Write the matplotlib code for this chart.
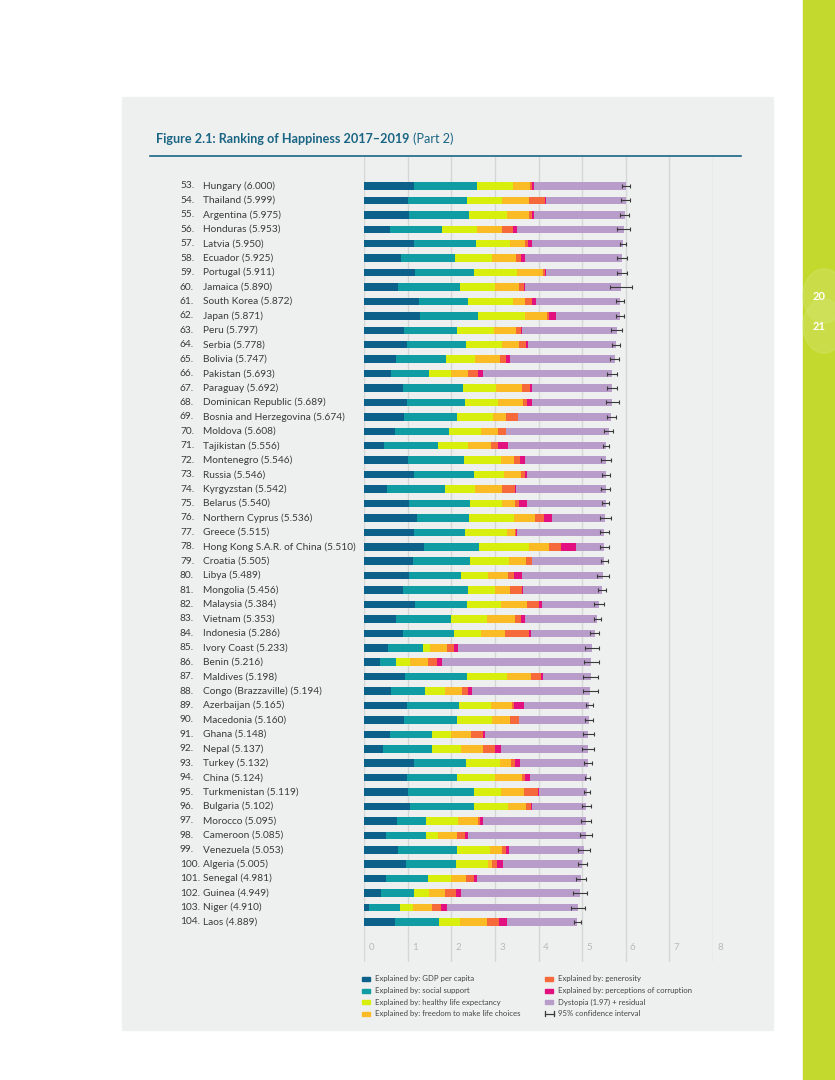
import matplotlib
matplotlib.use("Agg")
import matplotlib.pyplot as plt
import matplotlib.transforms as mtransforms
from matplotlib.patches import Rectangle, Circle

plt.rcParams['font.family'] = ['Lato', 'DejaVu Sans']

# ranking rows, top to bottom
ranks = list(range(53, 105))
countries = [
    "Hungary", "Thailand", "Argentina", "Honduras", "Latvia", "Ecuador", "Portugal",
    "Jamaica", "South Korea", "Japan", "Peru", "Serbia", "Bolivia", "Pakistan",
    "Paraguay", "Dominican Republic", "Bosnia and Herzegovina", "Moldova", "Tajikistan",
    "Montenegro", "Russia", "Kyrgyzstan", "Belarus", "Northern Cyprus", "Greece",
    "Hong Kong S.A.R. of China", "Croatia", "Libya", "Mongolia", "Malaysia", "Vietnam",
    "Indonesia", "Ivory Coast", "Benin", "Maldives", "Congo (Brazzaville)", "Azerbaijan",
    "Macedonia", "Ghana", "Nepal", "Turkey", "China", "Turkmenistan", "Bulgaria",
    "Morocco", "Cameroon", "Venezuela", "Algeria", "Senegal", "Guinea", "Niger", "Laos",
]
scores = [
    6.000, 5.999, 5.975, 5.953, 5.950, 5.925, 5.911, 5.890, 5.872, 5.871, 5.797, 5.778,
    5.747, 5.693, 5.692, 5.689, 5.674, 5.608, 5.556, 5.546, 5.546, 5.542, 5.540, 5.536,
    5.515, 5.510, 5.505, 5.489, 5.456, 5.384, 5.353, 5.286, 5.233, 5.216, 5.198, 5.194,
    5.165, 5.160, 5.148, 5.137, 5.132, 5.124, 5.119, 5.102, 5.095, 5.085, 5.053, 5.005,
    4.981, 4.949, 4.910, 4.889,
]
gdp = [
    1.15, 1.00, 1.02, 0.60, 1.14, 0.85, 1.16, 0.78, 1.25, 1.27, 0.92, 0.98, 0.72, 0.62,
    0.89, 0.97, 0.92, 0.70, 0.46, 1.01, 1.13, 0.51, 1.02, 1.21, 1.13, 1.37, 1.11, 1.02,
    0.90, 1.16, 0.72, 0.88, 0.54, 0.35, 0.93, 0.62, 0.99, 0.92, 0.58, 0.44, 1.13, 0.99,
    1.01, 1.05, 0.75, 0.50, 0.77, 0.95, 0.50, 0.39, 0.10, 0.71,
]
social = [
    1.44, 1.36, 1.39, 1.19, 1.42, 1.23, 1.36, 1.41, 1.13, 1.34, 1.21, 1.35, 1.16, 0.87,
    1.38, 1.35, 1.20, 1.25, 1.23, 1.27, 1.39, 1.35, 1.40, 1.20, 1.18, 1.26, 1.32, 1.21,
    1.47, 1.19, 1.26, 1.17, 0.80, 0.37, 1.42, 0.78, 1.19, 1.20, 0.97, 1.11, 1.20, 1.14,
    1.52, 1.47, 0.66, 0.91, 1.35, 1.15, 0.97, 0.76, 0.72, 1.00,
]
health = [
    0.82, 0.81, 0.86, 0.80, 0.79, 0.85, 0.98, 0.80, 1.03, 1.07, 0.85, 0.83, 0.67, 0.49,
    0.75, 0.74, 0.83, 0.72, 0.68, 0.85, 0.68, 0.69, 0.75, 1.03, 0.97, 1.15, 0.90, 0.62,
    0.62, 0.79, 0.83, 0.62, 0.16, 0.33, 0.93, 0.46, 0.74, 0.82, 0.43, 0.68, 0.79, 0.87,
    0.62, 0.78, 0.75, 0.28, 0.77, 0.75, 0.51, 0.33, 0.30, 0.49,
]
freedom = [
    0.40, 0.61, 0.52, 0.57, 0.34, 0.55, 0.60, 0.56, 0.27, 0.51, 0.50, 0.40, 0.57, 0.40,
    0.59, 0.58, 0.30, 0.39, 0.54, 0.30, 0.40, 0.61, 0.30, 0.48, 0.18, 0.47, 0.39, 0.45,
    0.36, 0.60, 0.65, 0.57, 0.40, 0.41, 0.54, 0.39, 0.48, 0.41, 0.48, 0.49, 0.26, 0.62,
    0.52, 0.42, 0.46, 0.43, 0.28, 0.08, 0.35, 0.37, 0.43, 0.62,
]
generosity = [
    0.04, 0.38, 0.06, 0.26, 0.06, 0.12, 0.05, 0.12, 0.17, 0.04, 0.11, 0.16, 0.13, 0.23,
    0.20, 0.09, 0.27, 0.19, 0.17, 0.15, 0.08, 0.31, 0.09, 0.20, 0.02, 0.27, 0.12, 0.13,
    0.27, 0.28, 0.13, 0.54, 0.16, 0.20, 0.23, 0.12, 0.03, 0.20, 0.27, 0.29, 0.07, 0.06,
    0.31, 0.11, 0.04, 0.20, 0.08, 0.12, 0.18, 0.25, 0.21, 0.27,
]
corruption = [
    0.04, 0.02, 0.05, 0.08, 0.10, 0.08, 0.02, 0.02, 0.09, 0.17, 0.02, 0.03, 0.09, 0.11,
    0.05, 0.12, 0.005, 0.005, 0.23, 0.10, 0.06, 0.02, 0.18, 0.20, 0.03, 0.33, 0.01, 0.18,
    0.03, 0.06, 0.09, 0.04, 0.10, 0.12, 0.06, 0.11, 0.24, 0.01, 0.05, 0.12, 0.13, 0.12,
    0.04, 0.01, 0.07, 0.05, 0.07, 0.13, 0.07, 0.12, 0.14, 0.19,
]
ci_half = [
    0.09, 0.10, 0.11, 0.14, 0.07, 0.115, 0.115, 0.25, 0.10, 0.09, 0.13, 0.10, 0.11, 0.11,
    0.115, 0.15, 0.10, 0.10, 0.07, 0.11, 0.09, 0.10, 0.08, 0.12, 0.10, 0.10, 0.08, 0.14,
    0.09, 0.11, 0.08, 0.11, 0.16, 0.17, 0.165, 0.17, 0.08, 0.10, 0.135, 0.13, 0.09, 0.06,
    0.065, 0.10, 0.12, 0.14, 0.14, 0.10, 0.115, 0.16, 0.165, 0.085,
]
dystopia = [s - (a + b + c + d + e + f) for s, a, b, c, d, e, f in
            zip(scores, gdp, social, health, freedom, generosity, corruption)]

segments = [
    ("Explained by: GDP per capita", gdp, "#0b6189"),
    ("Explained by: social support", social, "#0f9ca3"),
    ("Explained by: healthy life expectancy", health, "#d8ee0c"),
    ("Explained by: freedom to make life choices", freedom, "#fbbb25"),
    ("Explained by: generosity", generosity, "#f5693a"),
    ("Explained by: perceptions of corruption", corruption, "#e3117f"),
    ("Dystopia (1.97) + residual", dystopia, "#b89cc9"),
]
xticks = list(range(0, 9))

W, H = 835, 1080
fig = plt.figure(figsize=(W / 100, H / 100), dpi=100)
fig.patch.set_facecolor("white")


def fx(px):
    return px / W


def fy(py):
    return 1 - py / H


# page background pieces
fig.patches.append(Rectangle((fx(122), fy(1030)), fx(651), (1030 - 97) / H,
                             transform=fig.transFigure, color="#eef0ef", zorder=-2))
fig.patches.append(Rectangle((fx(803), 0), fx(32), 1,
                             transform=fig.transFigure, color="#c3d92d", zorder=-2))
for cy in (296, 326):
    fig.patches.append(Circle((fx(824), fy(cy)), 21 / W, transform=fig.transFigure,
                              color="#d4e46b", alpha=0.45, zorder=-1))
fig.text(fx(819), fy(296), "20", color="white", fontsize=8, fontweight="bold",
         ha="center", va="center")
fig.text(fx(819), fy(326), "21", color="white", fontsize=8, fontweight="bold",
         ha="center", va="center")

# title and rule
title_color = "#1a6584"
t = fig.text(fx(156), fy(139), "Figure 2.1: Ranking of Happiness 2017\u20132019",
             color=title_color, fontsize=9.1, fontweight="bold", va="center")
fig.canvas.draw()
bb = t.get_window_extent()
fig.text(bb.x1 / W + fx(4), fy(139), "(Part 2)", color=title_color, fontsize=9.1,
         va="center")
fig.add_artist(plt.Line2D([fx(150), fx(741)], [fy(156), fy(156)],
                          transform=fig.transFigure, color=title_color, lw=1.2))

# chart axes
x0, x8 = 364.3, 712.7
ax = fig.add_axes([fx(x0), fy(962), (x8 - x0) / W, (962 - 157) / H])
ax.set_zorder(2)
ax.set_facecolor("none")
ax.set_xlim(0, 8)
row0, step = 186, 14.43
ax.set_ylim((962 - row0) / step, (157 - row0) / step)
for s in ax.spines.values():
    s.set_visible(False)
ax.set_xticks([])
ax.set_yticks([])
for xv in xticks:
    ax.axvline(xv, color="#d5d7d6", lw=1.0, zorder=0)

ypos = list(range(len(countries)))
left = [0.0] * len(countries)
for name, vals, col in segments:
    ax.barh(ypos, vals, left=left, height=0.52, color=col, label=name, zorder=2)
    left = [l + v for l, v in zip(left, vals)]
ax.errorbar(scores, ypos, xerr=ci_half, fmt="none", ecolor="#3a3a3a", elinewidth=0.8,
            capsize=1.6, capthick=0.8, zorder=3)

tick_y = (948 - row0) / step
for xv in xticks:
    ax.text(xv + 0.1, tick_y, str(xv), color="#b8bab9", fontsize=7, va="center",
            ha="left")

lab_tr = mtransforms.blended_transform_factory(fig.transFigure, ax.transData)
for i, (r, c, s) in enumerate(zip(ranks, countries, scores)):
    ax.text(fx(180), i, f"{r}.", transform=lab_tr, fontsize=7.3, color="#3a3a3a",
            va="center", ha="left")
    ax.text(fx(203), i, f"{c} ({s:.3f})", transform=lab_tr, fontsize=7.3,
            color="#3a3a3a", va="center", ha="left")

# legend
leg_rows = [979, 990.5, 1002, 1013.5]
for k, (name, vals, col) in enumerate(segments):
    colx = 362 if k < 4 else 545
    ry = leg_rows[k % 4]
    fig.patches.append(Rectangle((fx(colx), fy(ry + 2)), 8 / W, 4 / H,
                                 transform=fig.transFigure, color=col, zorder=3))
    fig.text(fx(colx + 13), fy(ry), name, fontsize=5.6, color="#444444", va="center")
ry = leg_rows[3]
fig.add_artist(plt.Line2D([fx(545), fx(554)], [fy(ry), fy(ry)],
                          transform=fig.transFigure, color="#3a3a3a", lw=0.9))
for ex in (545, 554):
    fig.add_artist(plt.Line2D([fx(ex), fx(ex)], [fy(ry - 2.5), fy(ry + 2.5)],
                              transform=fig.transFigure, color="#3a3a3a", lw=0.9))
fig.text(fx(558), fy(ry), "95% confidence interval", fontsize=5.6, color="#444444",
         va="center")

fig.savefig("out.png", dpi=100)
